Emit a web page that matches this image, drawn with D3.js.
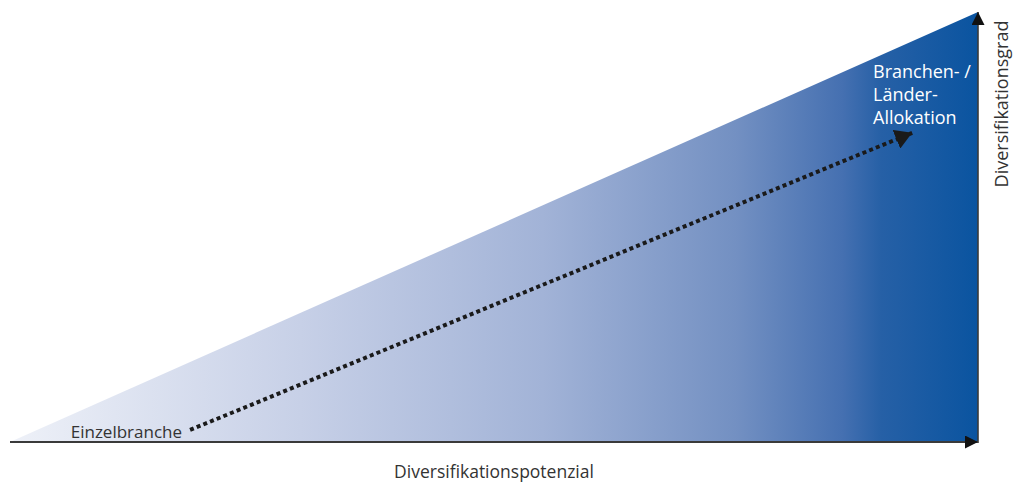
<!DOCTYPE html>
<html>
<head>
<meta charset="utf-8">
<script src="https://cdn.jsdelivr.net/npm/d3@7"></script>
<style>
  html, body { margin: 0; padding: 0; background: #fff; }
  svg { display: block; }
  text { font-family: "Open Sans", "Noto Sans", sans-serif; }
</style>
</head>
<body>
<svg id="chart" width="1014" height="483"></svg>
<script>
// Diversification wedge: potential on x, degree on y (both 0..1)
const wedge = [[0, 0], [1, 0], [1, 1]];
const pathStart = [0.186, 0.028];
const pathEnd = [0.932, 0.719];
const startLabel = "Einzelbranche";
const endLabel = ["Branchen- /", "Länder-", "Allokation"];
const xTitle = "Diversifikationspotenzial";
const yTitle = "Diversifikationsgrad";
const gradientStops = [
  [0.00, "#eef1f8"],
  [0.30, "#c7d0e7"],
  [0.55, "#a2b3d7"],
  [0.75, "#7390c2"],
  [0.86, "#4570b1"],
  [0.90, "#2660a6"],
  [1.00, "#0a54a0"]
];

const svg = d3.select("#chart");
const x = d3.scaleLinear().domain([0, 1]).range([10, 978]);
const y = d3.scaleLinear().domain([0, 1]).range([442, 12]);

const defs = svg.append("defs");
const grad = defs.append("linearGradient")
  .attr("id", "wedgeFill")
  .attr("gradientUnits", "userSpaceOnUse")
  .attr("x1", x(0)).attr("x2", x(1)).attr("y1", 0).attr("y2", 0);
grad.selectAll("stop").data(gradientStops).join("stop")
  .attr("offset", d => d[0]).attr("stop-color", d => d[1]);

defs.append("marker")
  .attr("id", "axisHead")
  .attr("viewBox", "0 0 10 10")
  .attr("refX", 10).attr("refY", 5)
  .attr("markerUnits", "userSpaceOnUse")
  .attr("markerWidth", 13).attr("markerHeight", 13)
  .attr("orient", "auto")
  .append("path").attr("d", "M0,0L10,5L0,10Z").attr("fill", "#111");

defs.append("marker")
  .attr("id", "pathHead")
  .attr("viewBox", "0 0 17 20")
  .attr("refX", 17).attr("refY", 10)
  .attr("markerUnits", "userSpaceOnUse")
  .attr("markerWidth", 17).attr("markerHeight", 20)
  .attr("orient", "auto")
  .append("path").attr("d", "M0,0L17,10L0,20Z").attr("fill", "#1a1a1a");

// wedge
svg.append("path")
  .attr("d", d3.line().x(d => x(d[0])).y(d => y(d[1])).curve(d3.curveLinearClosed)(wedge))
  .attr("fill", "url(#wedgeFill)");

// axes
svg.append("line")
  .attr("x1", x(0)).attr("y1", y(0)).attr("x2", x(1)).attr("y2", y(0))
  .attr("stroke", "#3a3a3a").attr("stroke-width", 2.2)
  .attr("marker-end", "url(#axisHead)");
svg.append("line")
  .attr("x1", x(1)).attr("y1", y(0) + 1).attr("x2", x(1)).attr("y2", y(1))
  .attr("stroke", "#3a3a3a").attr("stroke-width", 1.6)
  .attr("marker-end", "url(#axisHead)");

// dotted path
svg.append("line")
  .attr("x1", x(pathStart[0])).attr("y1", y(pathStart[1]))
  .attr("x2", x(pathEnd[0])).attr("y2", y(pathEnd[1]))
  .attr("stroke", "#1a1a1a").attr("stroke-width", 4)
  .attr("stroke-dasharray", "4 3.2")
  .attr("marker-end", "url(#pathHead)");

// labels
svg.append("text")
  .attr("x", x(pathStart[0]) - 8).attr("y", 438)
  .attr("text-anchor", "end")
  .attr("font-size", 17).attr("fill", "#333")
  .text(startLabel);

svg.append("text")
  .attr("x", 873).attr("y", 78)
  .attr("font-size", 18).attr("fill", "#fff")
  .selectAll("tspan").data(endLabel).join("tspan")
  .attr("x", 873).attr("dy", (d, i) => i === 0 ? 0 : 23)
  .text(d => d);

svg.append("text")
  .attr("x", (x(0) + x(1)) / 2).attr("y", 478)
  .attr("text-anchor", "middle")
  .attr("font-size", 17.5).attr("fill", "#333")
  .text(xTitle);

svg.append("text")
  .attr("transform", "translate(1008,104) rotate(-90)")
  .attr("text-anchor", "middle")
  .attr("font-size", 18).attr("fill", "#333")
  .text(yTitle);
</script>
</body>
</html>
